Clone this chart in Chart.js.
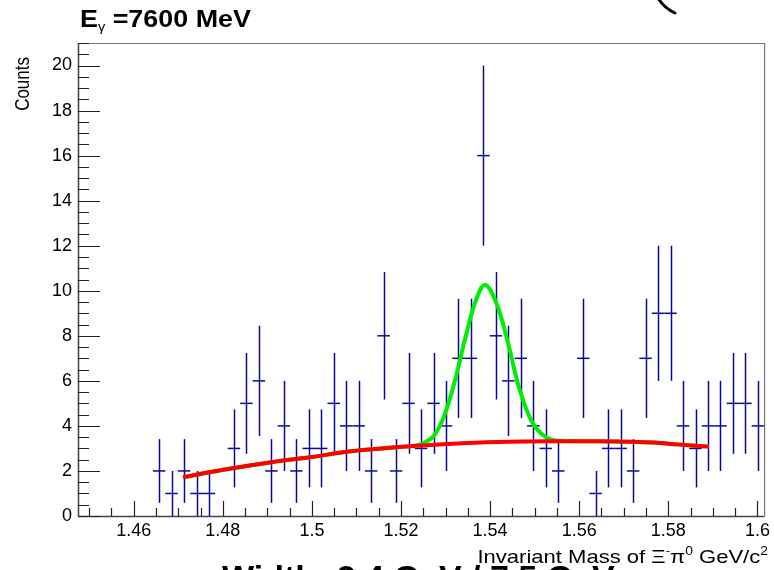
<!DOCTYPE html>
<html>
<head>
<meta charset="utf-8">
<script src="https://cdn.jsdelivr.net/npm/chart.js@4.4.1/dist/chart.umd.min.js"></script>
<style>
  html, body { margin: 0; padding: 0; background: #fff; }
  #wrap { width: 774px; height: 570px; position: relative; }
</style>
</head>
<body>
<div id="wrap"><canvas id="massChart"></canvas></div>
<script>
// histogram bins (width 0.0028 GeV/c^2)
const binWidth = 0.0028;
const binCenters = [
  1.4489, 1.4517, 1.4545, 1.4573, 1.4601, 1.4629, 1.4657, 1.4685, 1.4713, 1.4741,
  1.4769, 1.4797, 1.4825, 1.4853, 1.4881, 1.4909, 1.4937, 1.4965, 1.4993, 1.5021,
  1.5049, 1.5077, 1.5105, 1.5133, 1.5161, 1.5189, 1.5217, 1.5245, 1.5273, 1.5301,
  1.5329, 1.5357, 1.5385, 1.5413, 1.5441, 1.5469, 1.5497, 1.5525, 1.5553, 1.5581,
  1.5609, 1.5637, 1.5665, 1.5693, 1.5721, 1.5749, 1.5777, 1.5805, 1.5833, 1.5861,
  1.5889, 1.5917, 1.5945, 1.5973, 1.6001
];
const counts = [
  0, 0, 0, 0, 0, 0, 2, 1, 2, 1,
  1, 0, 3, 5, 6, 2, 4, 2, 3, 3,
  5, 4, 4, 2, 8, 2, 5, 3, 5, 4,
  7, 7, 16, 8, 6, 7, 4, 3, 2, 0,
  7, 1, 3, 3, 2, 7, 9, 9, 4, 3,
  4, 4, 5, 5, 4
];

// background fit (red)
const bkgX = [1.4711, 1.4801, 1.4912, 1.5000, 1.5082, 1.5194, 1.5306, 1.5418, 1.5529, 1.5640, 1.5708, 1.5768, 1.5820, 1.5891];
const bkgY = [1.72, 2.05, 2.40, 2.62, 2.86, 3.06, 3.20, 3.29, 3.32, 3.32, 3.30, 3.26, 3.18, 3.08];

// total fit, gaussian + background (green)
const totX = [1.4711, 1.4801, 1.4912, 1.5000, 1.5082, 1.5194, 1.5246, 1.5276, 1.5298, 1.5321, 1.5343, 1.5365, 1.5388,
  1.5417, 1.5440, 1.5462, 1.5492, 1.5525, 1.5560, 1.5640, 1.5708, 1.5768, 1.5820, 1.5891];
const totY = [1.72, 2.05, 2.40, 2.62, 2.86, 3.06, 3.20, 3.62, 4.50, 6.00, 7.80, 9.40, 10.27,
  9.30, 7.70, 5.90, 4.25, 3.50, 3.34, 3.32, 3.30, 3.26, 3.18, 3.08];

const xTicks = [1.46, 1.48, 1.5, 1.52, 1.54, 1.56, 1.58, 1.6];
const yTicks = [0, 2, 4, 6, 8, 10, 12, 14, 16, 18, 20];

const FONT = '"Liberation Sans", Arial, sans-serif';
const BLUE = '#08089a';

function drawRich(ctx, parts, x, y, align, sx) {
  let w = 0;
  parts.forEach(p => { ctx.font = p[1]; w += ctx.measureText(p[0]).width; });
  ctx.save();
  ctx.translate(x, y);
  ctx.scale(sx, 1);
  ctx.textBaseline = 'alphabetic';
  ctx.textAlign = 'left';
  let cx = align === 'right' ? -w : 0;
  parts.forEach(p => {
    ctx.font = p[1];
    ctx.fillText(p[0], cx, p[2]);
    cx += ctx.measureText(p[0]).width;
  });
  ctx.restore();
}

const rootStyle = {
  id: 'rootStyle',
  beforeDatasetsDraw(chart) {
    const { ctx, chartArea: a } = chart;
    const xs = chart.scales.x, ys = chart.scales.y;
    ctx.save();
    ctx.beginPath();
    ctx.rect(a.left, a.top, a.right - a.left, a.bottom - a.top);
    ctx.clip();
    // vertical error bars
    ctx.strokeStyle = BLUE;
    ctx.lineWidth = 1.5;
    binCenters.forEach((c, i) => {
      const n = counts[i];
      if (!n) return;
      const e = Math.sqrt(n);
      const px = Math.round(xs.getPixelForValue(c)) + 0.5;
      ctx.beginPath();
      ctx.moveTo(px, ys.getPixelForValue(n - e));
      ctx.lineTo(px, ys.getPixelForValue(n + e));
      ctx.stroke();
    });
    ctx.restore();
  },
  afterDraw(chart) {
    const { ctx, chartArea: a } = chart;
    const xs = chart.scales.x, ys = chart.scales.y;
    ctx.save();
    // frame
    ctx.strokeStyle = '#777';
    ctx.lineWidth = 1.2;
    ctx.beginPath();
    ctx.moveTo(a.left, a.top + 0.5);
    ctx.lineTo(a.right + 0.5, a.top + 0.5);
    ctx.lineTo(a.right + 0.5, a.bottom);
    ctx.stroke();
    ctx.strokeStyle = '#444';
    ctx.lineWidth = 1.5;
    ctx.beginPath();
    ctx.moveTo(a.left + 0.5, a.top);
    ctx.lineTo(a.left + 0.5, a.bottom + 0.5);
    ctx.lineTo(a.right + 0.5, a.bottom + 0.5);
    ctx.stroke();
    // y ticks (inside)
    ctx.strokeStyle = '#222';
    ctx.lineWidth = 1.2;
    ctx.beginPath();
    for (let k = 0; k <= 42; k++) {
      const v = k * 0.5;
      const py = Math.round(ys.getPixelForValue(v)) + 0.5;
      const len = (k % 4 === 0) ? 22 : 11;
      ctx.moveTo(a.left, py);
      ctx.lineTo(a.left + len, py);
    }
    // x ticks (inside)
    for (let k = 290; k <= 320; k++) {
      const v = k * 0.005;
      const px = Math.round(xs.getPixelForValue(v)) + 0.5;
      if (px < a.left || px > a.right) continue;
      const len = (k % 4 === 0) ? 15 : 8;
      ctx.moveTo(px, a.bottom);
      ctx.lineTo(px, a.bottom - len);
    }
    ctx.stroke();

    ctx.fillStyle = '#000';
    // main title
    drawRich(ctx, [
      ['E', 'bold 24px ' + FONT, 0],
      ['\u03b3', '13px ' + FONT, 4],
      [' =7600 MeV', 'bold 24px ' + FONT, 0]
    ], 80, 26.5, 'left', 1.12);
    // x axis title
    drawRich(ctx, [
      ['Invariant Mass of \u039e', '19px ' + FONT, 0],
      ['-', '11px ' + FONT, -9],
      ['\u03c0', '19px ' + FONT, 0],
      ['0', '12px ' + FONT, -8],
      [' GeV/c', '19px ' + FONT, 0],
      ['2', '12px ' + FONT, -8]
    ], 768, 563, 'right', 1.16);
    // y axis title
    ctx.save();
    ctx.translate(29, 57);
    ctx.rotate(-Math.PI / 2);
    ctx.scale(1, 1.15);
    ctx.font = '17px ' + FONT;
    ctx.textAlign = 'right';
    ctx.textBaseline = 'alphabetic';
    ctx.fillText('Counts', 0, 0);
    ctx.restore();

    // pieces cut off at the edges of the picture
    ctx.font = 'bold 34px ' + FONT;
    ctx.textAlign = 'left';
    ctx.fillText('Width: 2.4 GeV / 7.5 GeV', 222, 589);
    ctx.strokeStyle = '#000';
    ctx.lineWidth = 3;
    ctx.lineCap = 'round';
    ctx.beginPath();
    ctx.moveTo(658, -2);
    ctx.quadraticCurveTo(664, 8, 675, 13);
    ctx.stroke();
    ctx.restore();
  }
};

new Chart(document.getElementById('massChart'), {
  type: 'scatter',
  data: {
    datasets: [
      {
        label: 'background',
        data: bkgX.map((x, i) => ({ x: x, y: bkgY[i] })),
        showLine: true,
        borderColor: '#ff0000',
        borderWidth: 4,
        pointRadius: 0,
        cubicInterpolationMode: 'monotone',
        order: 0
      },
      {
        label: 'total fit',
        data: totX.map((x, i) => ({ x: x, y: totY[i] })),
        showLine: true,
        borderColor: '#00ee00',
        borderWidth: 4,
        pointRadius: 0,
        cubicInterpolationMode: 'monotone',
        order: 1
      },
      {
        label: 'data',
        data: binCenters.map((x, i) => ({ x: x, y: counts[i] })).filter(p => p.y > 0),
        pointStyle: 'line',
        pointRadius(ctx) {
          const s = ctx.chart.scales.x;
          if (!s) return 6.3;
          return (s.getPixelForValue(binWidth) - s.getPixelForValue(0)) / 2;
        },
        pointBorderColor: BLUE,
        pointBorderWidth: 1.5,
        order: 2
      }
    ]
  },
  options: {
    responsive: true,
    maintainAspectRatio: false,
    animation: false,
    events: [],
    layout: { padding: { top: 43, right: 6, left: 0, bottom: 0 } },
    plugins: { legend: { display: false }, tooltip: { enabled: false } },
    scales: {
      x: {
        type: 'linear',
        min: 1.4475,
        max: 1.6015,
        grid: { display: false, drawTicks: false },
        border: { display: false },
        afterBuildTicks(scale) { scale.ticks = xTicks.map(v => ({ value: v })); },
        afterFit(scale) { scale.height = 54; },
        ticks: {
          autoSkip: false,
          maxRotation: 0,
          padding: 4,
          color: '#000',
          font: { family: FONT, size: 18 },
          callback: v => String(parseFloat(v.toFixed(2)))
        }
      },
      y: {
        min: 0,
        max: 21,
        grid: { display: false, drawTicks: false },
        border: { display: false },
        afterBuildTicks(scale) { scale.ticks = yTicks.map(v => ({ value: v })); },
        afterFit(scale) { scale.width = 78; },
        ticks: {
          padding: 6,
          color: '#000',
          font: { family: FONT, size: 18 }
        }
      }
    }
  },
  plugins: [rootStyle]
});
</script>
</body>
</html>
